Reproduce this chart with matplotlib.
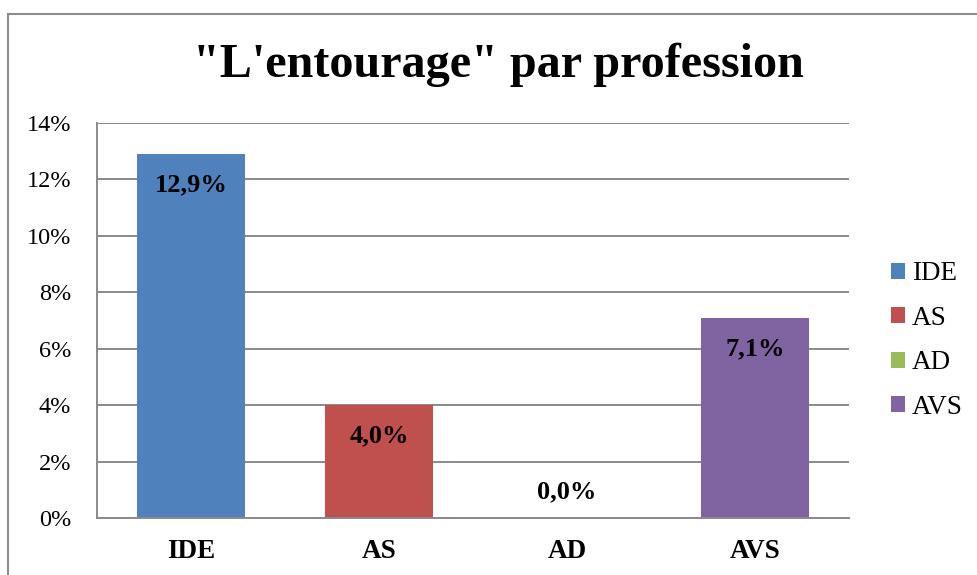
import matplotlib
matplotlib.use("Agg")
import matplotlib.pyplot as plt
from matplotlib.patches import Patch, Rectangle

categories = ["IDE", "AS", "AD", "AVS"]
values = [12.9, 4.0, 0.0, 7.1]
labels = ["12,9%", "4,0%", "0,0%", "7,1%"]
colors = ["#4F81BD", "#C0504D", "#9BBB59", "#8064A2"]
yticks = [0, 2, 4, 6, 8, 10, 12, 14]
ytick_labels = ["0%", "2%", "4%", "6%", "8%", "10%", "12%", "14%"]
title = "\"L'entourage\" par profession"

plt.rcParams['font.family'] = ['Liberation Serif', 'DejaVu Serif']

W, H = 977, 575
fig = plt.figure(figsize=(W / 100, H / 100), dpi=100)

# outer chart border (left and top visible)
fig.patches.append(Rectangle((8 / W, -0.05), 1.1, (H - 14) / H + 0.05,
                             transform=fig.transFigure, fill=False,
                             edgecolor="#8c8c8c", linewidth=1.5))

ax = fig.add_axes([97 / W, (H - 518) / H, 752 / W, 395 / H])
x = range(len(categories))
bars = ax.bar(x, values, width=0.575, color=colors, zorder=3)

ax.set_xlim(-0.5, len(categories) - 0.5)
ax.set_ylim(0, 14)
ax.set_yticks(yticks)
ax.set_yticklabels(ytick_labels, fontsize=17.5)
ax.set_xticks(list(x))
ax.set_xticklabels(categories, fontsize=19.5, fontweight="bold")
ax.tick_params(axis="y", length=0, pad=26 * 0.72)
ax.tick_params(axis="x", length=0, pad=21 * 0.72)
ax.yaxis.grid(True, color="#8a8a8a", linewidth=1.4, zorder=0)
ax.set_axisbelow(True)
for s in ["top", "right"]:
    ax.spines[s].set_visible(False)
for s in ["left", "bottom"]:
    ax.spines[s].set_color("#8a8a8a")
    ax.spines[s].set_linewidth(1.4)
    ax.spines[s].set_zorder(4)

for xi, v, lab in zip(x, values, labels):
    off = -31 if v > 0 else 26
    ax.annotate(lab, (xi, v), xytext=(0, off), textcoords="offset pixels",
                ha="center", va="center", fontsize=19, fontweight="bold",
                color="black", zorder=5)

fig.text(498 / W, 1 - 65 / H, title, ha="center", va="center",
         fontsize=34.7, fontweight="bold")

handles = [Patch(facecolor=c, edgecolor="none") for c in colors]
fig.legend(handles, categories, loc="center left",
           bbox_to_anchor=(891 / W, 1 - 340.5 / H), frameon=False,
           fontsize=19.5, handlelength=0.52, handleheight=0.52,
           handletextpad=0.25, labelspacing=0.72, borderpad=0,
           borderaxespad=0)

fig.savefig("out.png", dpi=100)
